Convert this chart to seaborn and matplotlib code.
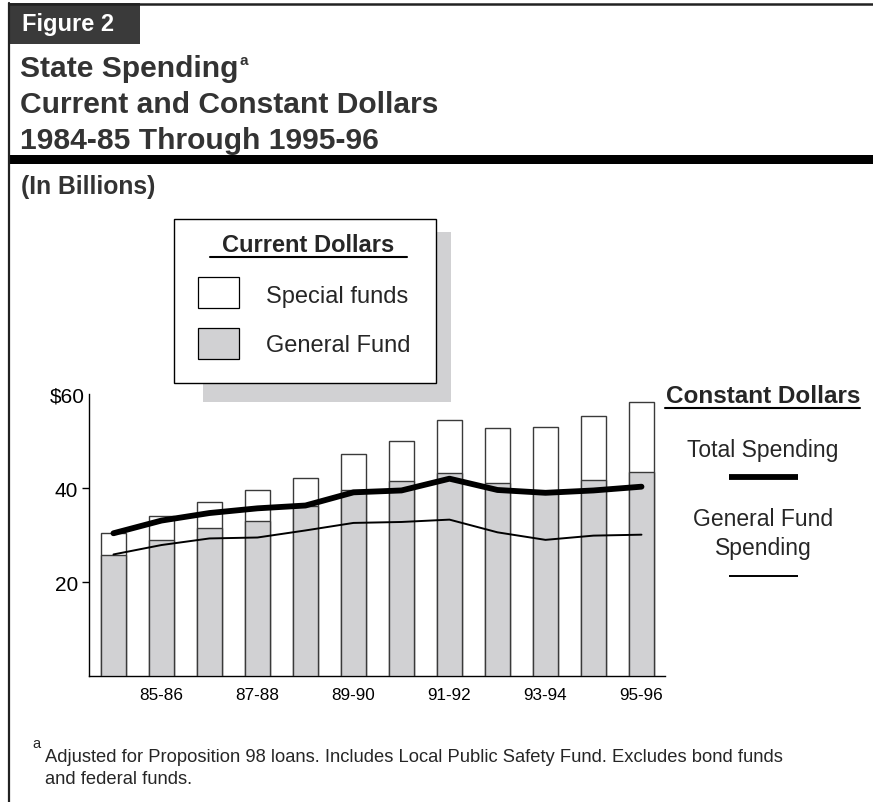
import matplotlib
matplotlib.use("Agg")
import matplotlib.pyplot as plt
from matplotlib.patches import Rectangle
from matplotlib.lines import Line2D
import seaborn as sns
import pandas as pd

# ---- data (billions of dollars) ----
years = ["84-85", "85-86", "86-87", "87-88", "88-89", "89-90",
         "90-91", "91-92", "92-93", "93-94", "94-95", "95-96"]
total_current = [30.4, 34.0, 37.1, 39.7, 42.1, 47.3, 50.1, 54.4, 52.7, 53.0, 55.4, 58.3]
general_current = [25.7, 28.9, 31.5, 33.0, 36.1, 39.5, 41.6, 43.3, 41.1, 39.1, 41.8, 43.4]
total_constant = [30.4, 33.1, 34.7, 35.7, 36.3, 39.1, 39.5, 42.0, 39.6, 39.0, 39.5, 40.3]
general_constant = [25.9, 27.9, 29.3, 29.5, 31.0, 32.6, 32.8, 33.3, 30.6, 29.0, 29.9, 30.1]
xtick_labels = ["85-86", "87-88", "89-90", "91-92", "93-94", "95-96"]
ytick_values = [20, 40, 60]
ytick_labels = ["20", "40", "$60"]

df = pd.DataFrame({
    "year": years,
    "idx": list(range(len(years))),
    "total_current": total_current,
    "general_current": general_current,
    "total_constant": total_constant,
    "general_constant": general_constant,
})

sns.set_theme(style="white")
plt.rcParams["font.family"] = ["Liberation Sans", "DejaVu Sans"]

W, H = 873, 803
fig = plt.figure(figsize=(W / 100, H / 100), dpi=100)


def fx(x):
    return x / W


def fy(y):
    return 1 - y / H


GRAY = "#d1d1d3"
EDGE = "#3a3a3a"
TITLE = "#333333"

# ---- main axes ----
ax = fig.add_axes([fx(89), fy(677.3), fx(665) - fx(89), fy(395) - fy(677.3)])
sns.barplot(data=df, x="year", y="total_current", color="white", edgecolor=EDGE,
            linewidth=1.0, width=0.52, saturation=1, ax=ax, zorder=2)
sns.barplot(data=df, x="year", y="general_current", color=GRAY, edgecolor=EDGE,
            linewidth=1.0, width=0.52, saturation=1, ax=ax, zorder=3)
sns.lineplot(data=df, x="idx", y="total_constant", color="black", linewidth=4.2,
             ax=ax, zorder=5)
sns.lineplot(data=df, x="idx", y="general_constant", color="black", linewidth=1.4,
             ax=ax, zorder=5)

ax.set_xlim(-0.51, 11.49)
ax.set_ylim(0, 60)
ax.set_xlabel("")
ax.set_ylabel("")
ax.set_xticks([1, 3, 5, 7, 9, 11])
ax.set_xticklabels(xtick_labels, fontsize=12.3)
ax.set_yticks(ytick_values)
ax.set_yticklabels(ytick_labels, fontsize=15)
ax.tick_params(axis="x", length=0, pad=8, colors="black")
ax.tick_params(axis="y", length=5, width=1, pad=3, colors="black", left=True)
top_tick = ax.yaxis.get_major_ticks()[-1]
top_tick.tick1line.set_visible(False)
top_tick.set_pad(-2)
for s in ["top", "right"]:
    ax.spines[s].set_visible(False)
for s in ["left", "bottom"]:
    ax.spines[s].set_color("black")
    ax.spines[s].set_linewidth(1.0)
ax.set_facecolor("white")
ax.patch.set_alpha(0)

# ---- frame and header ----
fig.add_artist(Line2D([fx(9), 1], [fy(4.5), fy(4.5)], color="#222222", lw=1.8))
fig.add_artist(Line2D([fx(9), fx(9)], [fy(4), 0], color="#222222", lw=1.6))
fig.add_artist(Rectangle((fx(8), fy(45)), fx(140) - fx(8), fy(4) - fy(45),
                         transform=fig.transFigure, facecolor="#3a3a3a", edgecolor="none"))
fig.add_artist(Rectangle((fx(9), fy(165)), 1 - fx(9), fy(156) - fy(165),
                         transform=fig.transFigure, facecolor="black", edgecolor="none"))
fig.text(fx(22), fy(25), "Figure 2", color="white", fontsize=17, fontweight="bold",
         va="center", ha="left")
t1 = fig.text(fx(20), fy(69), "State Spending", color=TITLE, fontsize=21.6,
              fontweight="bold", va="center", ha="left")
fig.text(fx(20), fy(105), "Current and Constant Dollars", color=TITLE, fontsize=21.6,
         fontweight="bold", va="center", ha="left")
fig.text(fx(20), fy(141), "1984-85 Through 1995-96", color=TITLE, fontsize=21.6,
         fontweight="bold", va="center", ha="left")
fig.text(fx(21), fy(187), "(In Billions)", color=TITLE, fontsize=17.8, fontweight="bold",
         va="center", ha="left")

# ---- current dollars legend box ----
fig.add_artist(Rectangle((fx(203), fy(403)), fx(451) - fx(203), fy(233) - fy(403),
                         transform=fig.transFigure, facecolor=GRAY, edgecolor="none",
                         zorder=1))
fig.add_artist(Rectangle((fx(174), fy(384)), fx(436) - fx(174), fy(220) - fy(384),
                         transform=fig.transFigure, facecolor="white", edgecolor="black",
                         lw=1.0, zorder=2))
fig.text(fx(308), fy(245), "Current Dollars", fontsize=17, fontweight="bold",
         ha="center", va="center", zorder=3)
fig.add_artist(Line2D([fx(210), fx(407)], [fy(258), fy(258)], color="black", lw=1.5,
                      zorder=3))
fig.add_artist(Rectangle((fx(198), fy(309)), fx(239) - fx(198), fy(278) - fy(309),
                         transform=fig.transFigure, facecolor="white", edgecolor="black",
                         lw=0.9, zorder=3))
fig.add_artist(Rectangle((fx(198), fy(360)), fx(239) - fx(198), fy(329) - fy(360),
                         transform=fig.transFigure, facecolor=GRAY, edgecolor="black",
                         lw=0.9, zorder=3))
fig.text(fx(266), fy(297), "Special funds", fontsize=17, ha="left", va="center", zorder=3)
fig.text(fx(266), fy(346), "General Fund", fontsize=17, ha="left", va="center", zorder=3)

# ---- constant dollars legend ----
fig.text(fx(763), fy(397), "Constant Dollars", fontsize=17.5, fontweight="bold",
         ha="center", va="center")
fig.add_artist(Line2D([fx(665), fx(860)], [fy(409), fy(409)], color="black", lw=1.5))
fig.text(fx(763), fy(451), "Total Spending", fontsize=16.5, ha="center", va="center")
fig.add_artist(Line2D([fx(729), fx(798)], [fy(478), fy(478)], color="black", lw=4.2,
                      solid_capstyle="butt"))
fig.text(fx(763), fy(520), "General Fund", fontsize=16.5, ha="center", va="center")
fig.text(fx(763), fy(549), "Spending", fontsize=16.5, ha="center", va="center")
fig.add_artist(Line2D([fx(729), fx(798)], [fy(577), fy(577)], color="black", lw=1.4,
                      solid_capstyle="butt"))

# ---- footnote ----
fig.text(fx(32), fy(744), "a", fontsize=10.5, ha="left", va="center")
fig.text(fx(45), fy(758),
         "Adjusted for Proposition 98 loans. Includes Local Public Safety Fund. Excludes bond funds",
         fontsize=13.2, ha="left", va="center")
fig.text(fx(45), fy(780), "and federal funds.", fontsize=13.2, ha="left", va="center")

fig.canvas.draw()
plt.annotate("a", xy=(1.0, 1.0), xycoords=t1, xytext=(1, 1), textcoords="offset points",
             fontsize=11, fontweight="bold", color=TITLE, ha="left", va="top",
             annotation_clip=False)

fig.savefig("out.png", dpi=100, facecolor="white")
